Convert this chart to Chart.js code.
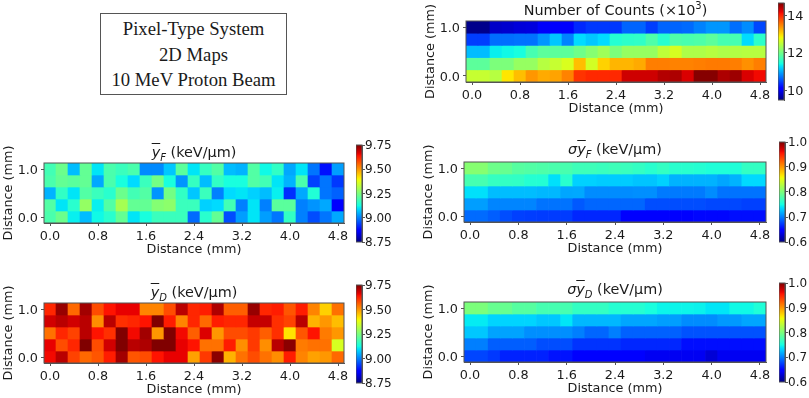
<!DOCTYPE html>
<html>
<head>
<meta charset="utf-8">
<script src="https://cdn.jsdelivr.net/npm/chart.js@4/dist/chart.umd.min.js"></script>
<style>
  body { margin: 0; background: #fff; width: 809px; height: 398px; overflow: hidden; position: relative; }
  canvas { position: absolute; }
  .titulo { position: absolute; font: 14.4px "DejaVu Sans"; color: #1a1a1a; white-space: nowrap; transform: translate(-50%, -50%); }
  .titulo sub, .titulo sup { font-size: 10px; line-height: 0; }
  .barra { text-decoration: overline; }
  #caixa {
    position: absolute; left: 100px; top: 13px; width: 185px; height: 78px;
    border: 1.5px solid #555;
    font: 18.7px "Liberation Serif"; color: #1a1a1a; text-align: center; line-height: 25.5px; padding-top: 2px;
  }
</style>
</head>
<body>
<div id="caixa">Pixel-Type System<br>2D Maps<br>10 MeV Proton Beam</div>

<script>
const distX = ["0.0","0.2","0.4","0.6","0.8","1.0","1.2","1.4","1.6","1.8","2.0","2.2","2.4","2.6","2.8","3.0","3.2","3.4","3.6","3.8","4.0","4.2","4.4","4.6","4.8"];
const distY = [1.0, 0.75, 0.5, 0.25, 0.0];
const metadeCelula = 0.125;

// each list is one row of the map, top row first
const contagens = [
  [9.55,9.55,9.82,9.85,9.9,9.92,10.05,10.1,10.1,10.34,10.42,10.42,10.42,10.65,10.65,10.45,10.65,10.65,10.68,10.8,10.9,10.9,10.7,10.85,10.5],
  [10.45,10.45,10.7,10.7,10.72,10.72,10.9,11.15,10.8,11.25,11.15,11.25,11.53,11.58,11.6,11.79,11.55,11.79,11.76,11.79,11.88,11.74,11.74,11.25,11.58],
  [11.1,11.1,11.35,11.4,11.45,11.74,11.88,11.88,11.88,11.99,12.14,12.29,12.08,12.24,12.24,12.24,12.49,12.64,12.39,12.39,12.44,12.39,12.42,12.44,12.44],
  [11.88,11.88,12.08,12.08,12.24,12.24,12.44,12.54,12.66,13.15,12.62,13.04,13.2,13.2,13.26,13.5,13.5,13.48,13.48,13.5,13.52,13.52,13.5,13.4,13.5],
  [12.54,12.54,12.44,12.93,13.15,13.37,13.26,13.3,13.48,13.91,13.97,13.97,13.97,14.3,14.3,14.3,14.42,14.45,14.25,14.62,14.62,14.45,14.52,14.25,14.14],
];
const yF = [
  [9.18,9.23,9.06,9.22,9.1,9.19,9.17,9.19,9.01,9.01,9.07,9.21,9.1,9.165,9.2,9.06,9.05,9.2,9.12,9.16,9.04,9.1,8.99,8.89,9.03],
  [9.19,9.22,9.21,9.22,9.04,9.19,9.13,9.09,9.17,9.24,9.13,9.02,9.165,9.06,9.16,9.13,9.13,9.2,9.18,9.1,9.05,9.19,8.94,8.99,8.93],
  [9.05,9.16,9.1,9.2,9.17,9.15,9.23,9.18,9.2,9.02,9.24,9.16,9.07,9.17,9.0,9.09,9.1,9.08,9.06,9.11,8.92,9.04,9.14,8.99,8.97],
  [9.2,9.1,9.15,9.28,9.11,9.2,9.3,9.22,9.22,9.26,9.27,9.17,9.17,9.08,9.09,9.18,9.0,9.1,9.0,9.21,9.21,9.0,9.02,9.04,8.86],
  [9.19,9.23,9.11,9.06,9.12,9.15,9.22,9.1,9.13,9.17,9.17,9.17,8.98,9.15,9.22,8.95,9.03,9.1,9.03,8.99,9.16,9.0,8.95,8.99,9.04],
];
const yD = [
  [9.62,9.73,9.55,9.72,9.58,9.64,9.66,9.66,9.52,9.52,9.58,9.7,9.62,9.63,9.71,9.56,9.56,9.73,9.62,9.63,9.57,9.63,9.52,9.44,9.54],
  [9.68,9.7,9.68,9.7,9.51,9.7,9.61,9.62,9.64,9.75,9.63,9.52,9.62,9.55,9.63,9.62,9.62,9.69,9.69,9.61,9.59,9.7,9.47,9.5,9.46],
  [9.54,9.62,9.59,9.7,9.64,9.61,9.75,9.65,9.72,9.5,9.75,9.65,9.56,9.67,9.5,9.58,9.58,9.6,9.56,9.61,9.42,9.57,9.64,9.53,9.5],
  [9.66,9.58,9.62,9.75,9.58,9.68,9.75,9.7,9.71,9.75,9.75,9.66,9.64,9.54,9.54,9.63,9.51,9.6,9.51,9.7,9.74,9.53,9.54,9.54,9.36],
  [9.65,9.7,9.59,9.55,9.57,9.63,9.72,9.57,9.58,9.64,9.66,9.66,9.49,9.6,9.74,9.47,9.54,9.58,9.54,9.51,9.63,9.52,9.49,9.5,9.55],
];
const sigmaF = [
  [.805,.805,.793,.79,.782,.78,.778,.776,.775,.77,.77,.768,.77,.768,.765,.76,.765,.76,.76,.758,.755,.755,.755,.765,.765],
  [.774,.774,.766,.765,.764,.758,.757,.738,.76,.732,.732,.73,.73,.73,.727,.727,.732,.72,.72,.72,.72,.715,.72,.735,.735],
  [.738,.738,.724,.724,.724,.724,.722,.722,.715,.716,.705,.705,.705,.705,.706,.706,.698,.698,.698,.698,.705,.695,.695,.695,.695],
  [.712,.712,.702,.702,.702,.702,.695,.695,.695,.685,.69,.69,.69,.69,.69,.68,.68,.68,.68,.68,.678,.678,.678,.675,.675],
  [.692,.692,.687,.68,.675,.674,.673,.673,.673,.665,.665,.665,.665,.65,.65,.65,.65,.65,.65,.652,.652,.652,.655,.655,.655],
];
const sigmaD = [
  [.8,.8,.79,.79,.782,.782,.774,.774,.774,.765,.765,.765,.758,.758,.758,.752,.746,.746,.746,.745,.74,.74,.748,.748,.755],
  [.742,.742,.733,.733,.733,.733,.728,.728,.74,.722,.722,.722,.722,.715,.715,.715,.712,.712,.705,.705,.705,.71,.71,.715,.715],
  [.728,.728,.714,.714,.714,.706,.706,.706,.706,.7,.69,.69,.7,.688,.688,.688,.688,.688,.682,.682,.682,.682,.682,.682,.682],
  [.7,.7,.687,.687,.687,.687,.68,.68,.68,.67,.67,.67,.67,.665,.665,.665,.665,.665,.655,.655,.655,.655,.655,.655,.655],
  [.677,.677,.672,.663,.663,.663,.663,.657,.657,.645,.645,.645,.645,.645,.645,.64,.64,.64,.64,.64,.63,.64,.64,.64,.64],
];

const ticksContagens = [10, 12, 14];
const ticksEnergia = [8.75, 9.0, 9.25, 9.5, 9.75];
const ticksSigma = [0.6, 0.7, 0.8, 0.9, 1.0];

const corTexto = "#1a1a1a";
const corEixo = "#555";
const fonteEixo = { family: "DejaVu Sans", size: 12.8 };

function interp(t, pts) {
  for (let i = 1; i < pts.length; i++) {
    if (t <= pts[i][0]) {
      const a = pts[i - 1], b = pts[i];
      return a[1] + (b[1] - a[1]) * (t - a[0]) / (b[0] - a[0]);
    }
  }
  return pts[pts.length - 1][1];
}

// matplotlib jet
function jet(t) {
  t = Math.min(1, Math.max(0, t));
  const r = interp(t, [[0, 0], [0.35, 0], [0.66, 1], [0.89, 1], [1, 0.5]]);
  const g = interp(t, [[0, 0], [0.125, 0], [0.375, 1], [0.64, 1], [0.91, 0], [1, 0]]);
  const b = interp(t, [[0, 0.5], [0.11, 1], [0.34, 1], [0.65, 0], [1, 0]]);
  return `rgb(${Math.round(r * 255)},${Math.round(g * 255)},${Math.round(b * 255)})`;
}

const molduraPlugin = {
  id: "moldura",
  afterDraw(chart) {
    const a = chart.chartArea, ctx = chart.ctx;
    ctx.save();
    ctx.strokeStyle = corEixo;
    ctx.lineWidth = 1;
    ctx.strokeRect(a.left, a.top, a.right - a.left, a.bottom - a.top);
    ctx.restore();
  },
};

function novoCanvas(left, top, width, height) {
  const c = document.createElement("canvas");
  c.width = width;
  c.height = height;
  c.style.left = left + "px";
  c.style.top = top + "px";
  document.body.appendChild(c);
  return c;
}

function criarMapa(grelha, min, max, p) {
  const folgaTopo = 20, eixoX = 34, eixoY = 43;
  const canvas = novoCanvas(p.x - eixoY, p.y - folgaTopo, p.w + eixoY + 14, p.h + folgaTopo + eixoX);
  new Chart(canvas, {
    type: "bar",
    data: {
      labels: distX,
      datasets: grelha.map((linha, i) => ({
        data: linha.map(() => [distY[i] - metadeCelula, distY[i] + metadeCelula]),
        backgroundColor: linha.map((v) => jet((v - min) / (max - min))),
        borderWidth: 0,
        barPercentage: 1,
        categoryPercentage: 1,
        grouped: false,
      })),
    },
    options: {
      responsive: false,
      animation: false,
      layout: { autoPadding: false, padding: { top: folgaTopo, right: 14 } },
      plugins: { legend: { display: false }, tooltip: { enabled: false } },
      scales: {
        x: {
          offset: true,
          grid: { offset: false, drawOnChartArea: false, tickLength: 3, tickColor: corEixo },
          border: { color: corEixo },
          title: { display: true, text: "Distance (mm)", color: corTexto, font: fonteEixo, padding: { top: 0, bottom: 0 } },
          ticks: { color: corTexto, font: fonteEixo, maxRotation: 0, autoSkip: false, padding: 3 },
          afterBuildTicks: (s) => { s.ticks = s.ticks.filter((t, i) => i % 4 === 0); },
          afterFit: (s) => { s.height = eixoX; s.paddingLeft = 0; s.paddingRight = 0; },
        },
        y: {
          min: -metadeCelula,
          max: 1 + metadeCelula,
          grid: { drawOnChartArea: false, tickLength: 3, tickColor: corEixo },
          border: { color: corEixo },
          title: { display: true, text: "Distance (mm)", color: corTexto, font: fonteEixo, padding: { top: 0, bottom: 0 } },
          ticks: { color: corTexto, font: fonteEixo, padding: 3, labelOffset: 1.5, callback: (v) => v.toFixed(1) },
          afterBuildTicks: (s) => { s.ticks = [{ value: 0 }, { value: 1 }]; },
          afterFit: (s) => { s.width = eixoY; s.paddingTop = 0; s.paddingBottom = 0; },
        },
      },
    },
    plugins: [molduraPlugin],
  });
}

function criarBarraCores(min, max, ticks, casas, p) {
  const folga = 8;
  const canvas = novoCanvas(p.x, p.y - folga, p.w + 30, p.h + 2 * folga);
  new Chart(canvas, {
    type: "bar",
    data: {
      labels: [""],
      datasets: [{
        data: [[min, max]],
        borderWidth: 0,
        barPercentage: 1,
        categoryPercentage: 1,
        backgroundColor(ctx) {
          const a = ctx.chart.chartArea;
          if (!a) return "#000";
          const g = ctx.chart.ctx.createLinearGradient(0, a.bottom, 0, a.top);
          for (let i = 0; i <= 64; i++) g.addColorStop(i / 64, jet(i / 64));
          return g;
        },
      }],
    },
    options: {
      responsive: false,
      animation: false,
      layout: { autoPadding: false, padding: { top: folga, bottom: folga } },
      plugins: { legend: { display: false }, tooltip: { enabled: false } },
      scales: {
        x: { display: false, offset: true },
        y: {
          position: "right",
          min: min,
          max: max,
          grid: { drawOnChartArea: false, tickLength: 3, tickColor: corEixo },
          border: { color: corEixo },
          ticks: { color: corTexto, font: { family: "DejaVu Sans", size: p.fonte }, padding: 0, labelOffset: 1, callback: (v) => v.toFixed(casas) },
          afterBuildTicks: (s) => { s.ticks = ticks.map((v) => ({ value: v })); },
          afterFit: (s) => { s.width = 30; s.paddingTop = 0; s.paddingBottom = 0; },
        },
      },
    },
    plugins: [molduraPlugin],
  });
}

function criarTitulo(html, x, y) {
  const d = document.createElement("div");
  d.className = "titulo";
  d.innerHTML = html;
  d.style.left = x + "px";
  d.style.top = y + "px";
  document.body.appendChild(d);
}

criarMapa(contagens, 9.5, 14.65, { x: 466, y: 21, w: 300, h: 61 });
criarBarraCores(9.5, 14.65, ticksContagens, 0, { x: 778, y: 3, w: 6, h: 97, fonte: 12.8 });
criarTitulo("Number of Counts (×10<sup>3</sup>)", 615.5, 10);

criarMapa(yF, 8.75, 9.75, { x: 44, y: 163, w: 300, h: 60 });
criarBarraCores(8.75, 9.75, ticksEnergia, 2, { x: 356, y: 145, w: 6, h: 97, fonte: 12 });
criarTitulo('<i class="barra">y</i><sub><i>F</i></sub> (keV/µm)', 194, 152);

criarMapa(yD, 8.75, 9.75, { x: 44, y: 303, w: 300, h: 60 });
criarBarraCores(8.75, 9.75, ticksEnergia, 2, { x: 356, y: 285, w: 6, h: 98, fonte: 12 });
criarTitulo('<i class="barra">y</i><sub><i>D</i></sub> (keV/µm)', 194, 292);

criarMapa(sigmaF, 0.6, 1.0, { x: 464, y: 162, w: 302, h: 60 });
criarBarraCores(0.6, 1.0, ticksSigma, 1, { x: 779, y: 142, w: 6, h: 100, fonte: 12 });
criarTitulo('<i>σ</i><i class="barra">y</i><sub><i>F</i></sub> (keV/µm)', 615, 149);

criarMapa(sigmaD, 0.6, 1.0, { x: 464, y: 302, w: 302, h: 60 });
criarBarraCores(0.6, 1.0, ticksSigma, 1, { x: 779, y: 283, w: 6, h: 99, fonte: 12 });
criarTitulo('<i>σ</i><i class="barra">y</i><sub><i>D</i></sub> (keV/µm)', 615, 289);
</script>
</body>
</html>
